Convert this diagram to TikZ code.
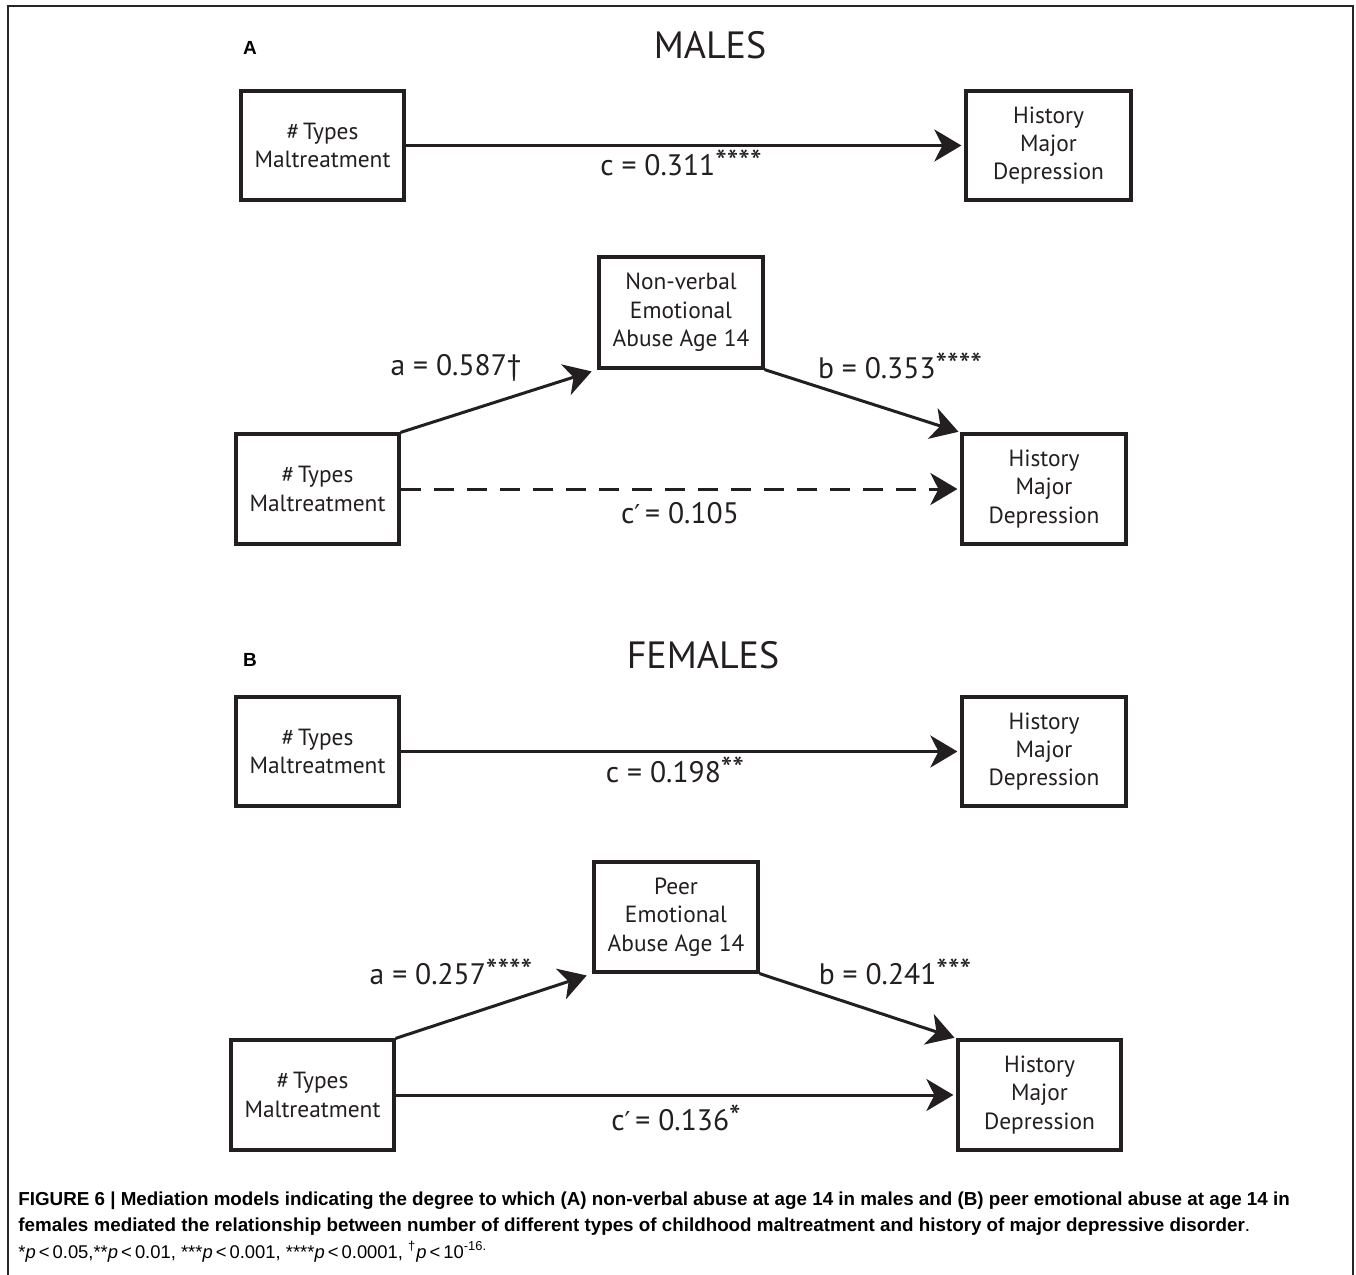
\documentclass[tikz,border=0pt]{standalone}
\usepackage{fontspec}
\setmainfont{PT Sans}
\newfontfamily\capfont{Liberation Sans}
\newfontfamily\symfont{DejaVu Sans}
\usetikzlibrary{arrows.meta}
\definecolor{ink}{HTML}{231F20}
\tikzset{
  varbox/.style={draw=ink, line width=1.6pt, minimum width=81.5pt, minimum height=54.5pt, align=center, inner sep=0pt, font=\fontsize{11.7}{14.2}\selectfont, text=ink},
  conn/.style={draw=ink, line width=1.5pt, -{Stealth[length=13.5pt, width=16pt, inset=4pt]}, shorten >=1.5pt},
  dashconn/.style={conn, dash pattern=on 10pt off 6.5pt},
  coef/.style={font=\fontsize{14.8}{17}\selectfont, text=ink, inner sep=0pt},
  ttl/.style={font=\fontsize{19}{22}\selectfont, text=ink, inner sep=0pt},
  panel/.style={font=\capfont\bfseries\fontsize{9.5}{10}\selectfont, inner sep=0pt},
  capline/.style={anchor=west, inner sep=0pt, font=\capfont\fontsize{9.4}{11}\selectfont},
  frame/.style={draw=black!85, line width=1pt}
}
\newcommand{\stars}[1]{\raisebox{1.2pt}{\fontsize{16.5}{17}\selectfont #1}}
\newcommand{\prm}{{\symfont\fontsize{13}{15}\selectfont ′}}
\begin{document}
\begin{tikzpicture}[x=0.5pt,y=-0.5pt]
\useasboundingbox (0,0) rectangle (1356,1275);
\fill[white] (0,0) rectangle (1356,1275);
% frame
\coordinate (f1) at (8,1275);
\coordinate (f2) at (8,6);
\coordinate (f3) at (1353,6);
\coordinate (f4) at (1353,1275);
\draw[frame] (f1) -- (f2) -- (f3) -- (f4);

% ---------- Panel A ----------
\node[panel] (lA) at (250,48) {A};
\node[ttl] (tA) at (710,45) {MALES};

\node[varbox, minimum width=81.5pt] (a1) at (322.5,145.5) {\#\,Types\\Maltreatment};
\node[varbox, minimum width=82.5pt] (a2) at (1048.5,145.5) {History\\Major\\Depression};
\draw[conn] (a1) -- (a2);
\node[coef] (ca) at (681,163) {c = 0.311\stars{****}};

\node[varbox, minimum width=82pt, minimum height=55.5pt] (am) at (681,312.5) {Non-verbal\\Emotional\\Abuse Age 14};
\node[varbox, minimum height=55pt] (a3) at (317.5,489) {\#\,Types\\Maltreatment};
\node[varbox, minimum width=82pt, minimum height=55pt] (a4) at (1044,489) {History\\Major\\Depression};
\draw[conn, shorten >=3pt] (a3.north east) -- (am.south west);
\draw[conn, shorten >=1pt] (am.south east) -- (a4.north west);
\draw[dashconn] (a3) -- (a4);
\node[coef] (aa) at (456,368) {a = 0.587†};
\node[coef] (ab) at (900,366) {b = 0.353\stars{****}};
\node[coef] (acp) at (680,513) {c\prm\,= 0.105};

% ---------- Panel B ----------
\node[panel] (lB) at (250,660) {B};
\node[ttl] (tB) at (703,655) {FEMALES};

\node[varbox] (b1) at (317.5,751.5) {\#\,Types\\Maltreatment};
\node[varbox, minimum width=82pt] (b2) at (1044,751.5) {History\\Major\\Depression};
\draw[conn] (b1) -- (b2);
\node[coef] (cb) at (675,770) {c = 0.198\stars{**}};

\node[varbox, minimum width=82pt, minimum height=55pt] (bm) at (676,917) {Peer\\Emotional\\Abuse Age 14};
\node[varbox, minimum height=55pt] (b3) at (312.5,1095) {\#\,Types\\Maltreatment};
\node[varbox, minimum height=55pt] (b4) at (1039.5,1095) {History\\Major\\Depression};
\draw[conn, shorten >=3pt] (b3.north east) -- (bm.south west);
\draw[conn, shorten >=1pt] (bm.south east) -- (b4.north west);
\draw[conn] (b3) -- (b4);
\node[coef] (ba) at (451,972) {a = 0.257\stars{****}};
\node[coef] (bb) at (895,972) {b = 0.241\stars{***}};
\node[coef] (bcp) at (676,1118) {c\prm\,= 0.136\stars{*}};

% ---------- Caption ----------
\node[capline] (cap1) at (18,1201) {\bfseries FIGURE 6 | Mediation models indicating the degree to which (A) non-verbal abuse at age 14 in males and (B) peer emotional abuse at age 14 in};
\node[capline] (cap2) at (18,1227) {\bfseries females mediated the relationship between number of different types of childhood maltreatment and history of major depressive disorder\mdseries.};
\node[capline, font=\capfont\fontsize{9.2}{11}\selectfont] (cap3) at (18,1252) {*\textit{p}\,<\,0.05,**\textit{p}\,<\,0.01, ***\textit{p}\,<\,0.001, ****\textit{p}\,<\,0.0001, \textsuperscript{†}\textit{p}\,<\,10\textsuperscript{-16.}};
\end{tikzpicture}
\end{document}
